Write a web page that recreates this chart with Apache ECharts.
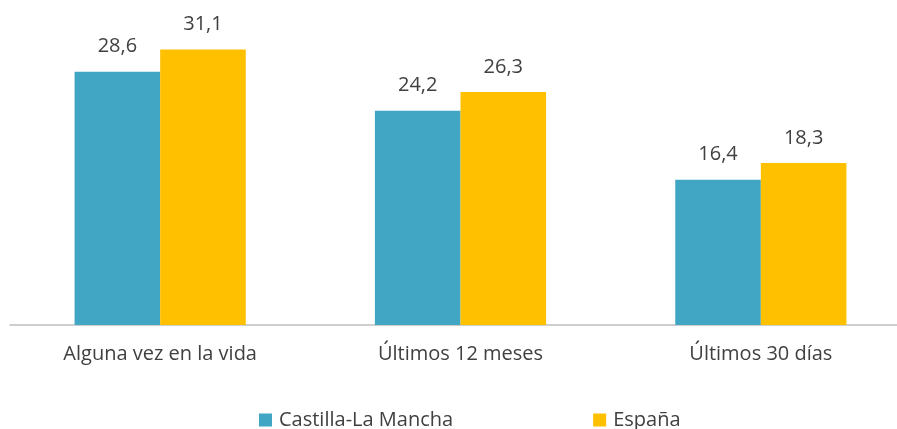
<!DOCTYPE html>
<html>
<head>
<meta charset="utf-8">
<script src="https://cdn.jsdelivr.net/npm/echarts@6/dist/echarts.min.js"></script>
<style>
  html, body { margin: 0; padding: 0; background: #fff; }
  #chart { width: 897px; height: 429px; }
</style>
</head>
<body>
<div id="chart"></div>
<script>
const categories = ["Alguna vez en la vida", "Últimos 12 meses", "Últimos 30 días"];
const castillaLaMancha = [28.6, 24.2, 16.4];
const espana = [31.1, 26.3, 18.3];

const TEAL = "#41A6C3";
const GOLD = "#FFC000";
const TEXT = "#404040";
const FONT = "'Open Sans', 'Noto Sans', sans-serif";
const fmt = (v) => String(v).replace(".", ",");

const label = { show: true, position: "top", distance: 15, color: TEXT, fontSize: 20, fontFamily: FONT, formatter: (p) => fmt(p.value) };

const chart = echarts.init(document.getElementById("chart"), null, { renderer: "canvas" });
chart.setOption({
  animation: false,
  textStyle: { fontFamily: FONT },
  grid: { left: 10, right: -14, top: 15, height: 310, outerBoundsMode: "none", containLabel: false },
  legend: {
    top: 405, left: 254, itemWidth: 13, itemHeight: 13, itemGap: 140, icon: "rect",
    textStyle: { color: TEXT, fontSize: 20, fontFamily: FONT, padding: [0, 0, 0, 2] },
    data: ["Castilla-La Mancha", "España"],
  },
  xAxis: {
    type: "category",
    data: categories,
    axisLine: { lineStyle: { color: "#BFBFBF", width: 1.5 } },
    axisTick: { show: false },
    axisLabel: { color: TEXT, fontSize: 20, fontFamily: FONT, margin: 19 },
  },
  yAxis: { type: "value", min: 0, max: 35, show: false, splitLine: { show: false } },
  series: [
    { name: "Castilla-La Mancha", type: "bar", data: castillaLaMancha, barWidth: "28.5%", barGap: "0%", itemStyle: { color: TEAL }, label },
    { name: "España", type: "bar", data: espana, barWidth: "28.5%", itemStyle: { color: GOLD }, label },
  ],
});
</script>
</body>
</html>
